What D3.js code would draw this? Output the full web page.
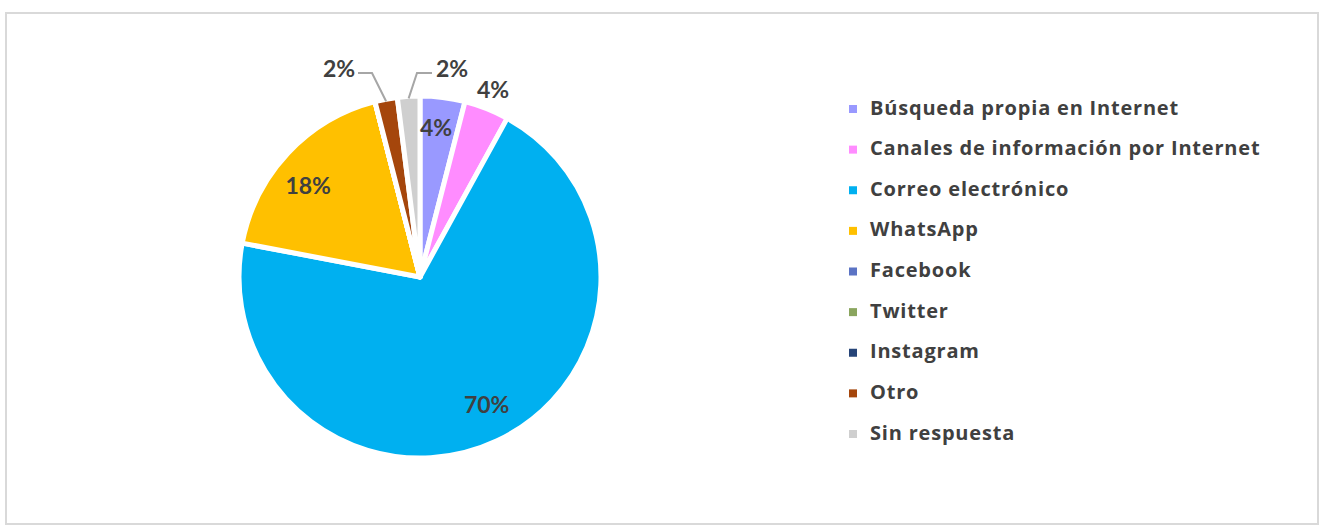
<!DOCTYPE html>
<html lang="es">
<head>
    <meta charset="UTF-8">
    <title>Pie Chart</title>
    <script src="https://d3js.org/d3.v7.min.js"></script>
    <style>
        body { margin: 0; background: #fff; }
        text { font-family: Lato, "Open Sans", sans-serif; font-weight: bold; fill: #404040; }
        .legend text { font-family: "Open Sans", Lato, sans-serif; }
    </style>
</head>
<body>
    <svg id="canvas"></svg>
    <script>
let categories = ['Búsqueda propia en Internet', 'Canales de información por Internet', 'Correo electrónico',
                  'WhatsApp', 'Facebook', 'Twitter', 'Instagram', 'Otro', 'Sin respuesta']
let values = [4, 4, 70, 18, 0, 0, 0, 2, 2]
let colors = ['#9999ff', '#ff8cff', '#00b0f0', '#ffc000', '#5b73c4', '#8aa55e', '#264478', '#a5460c', '#cfcfcf']

let width = 1328
let height = 527
let cx = 420
let cy = 277
let radius = 181

let svg = d3.select('svg')
            .attr('width', width)
            .attr('height', height)

// chart frame
svg.append('rect')
   .attr('x', 6).attr('y', 13)
   .attr('width', 1312).attr('height', 511)
   .attr('fill', 'none')
   .attr('stroke', '#d9d9d9')
   .attr('stroke-width', 2)

let pie = d3.pie().sort(null).value((d) => d)
let arcs = pie(values)
let arc = d3.arc().innerRadius(0).outerRadius(radius)

let g = svg.append('g').attr('transform', 'translate(' + cx + ',' + cy + ')')

g.selectAll('path')
 .data(arcs)
 .enter()
 .append('path')
 .attr('d', arc)
 .attr('fill', (d, i) => colors[i])
 .attr('stroke', '#fff')
 .attr('stroke-width', 5)
 .attr('stroke-linejoin', 'round')

// label placement: inside (radius fraction + angle nudge) or outside with leader line
let labelPos = {
  0: { r: 0.834, da: -0.019 },
  1: { out: [73, -188] },
  2: { r: 0.79, da: -0.045 },
  3: { r: 0.80, da: -0.066 },
  7: { out: [-81, -209], line: true, side: 'left' },
  8: { out: [32, -209], line: true, side: 'right' }
}

arcs.forEach((d, i) => {
  if (!labelPos[i]) return
  let p = labelPos[i]
  let mid = (d.startAngle + d.endAngle) / 2
  let x, y
  if (p.out) {
    x = p.out[0]; y = p.out[1]
  } else {
    let a = mid + (p.da || 0)
    x = Math.sin(a) * radius * p.r
    y = -Math.cos(a) * radius * p.r
  }
  g.append('text')
   .attr('x', x).attr('y', y)
   .attr('text-anchor', 'middle')
   .attr('dominant-baseline', 'central')
   .style('font-size', '23px')
   .text(values[i] + '%')
  if (p.line) {
    let edge = [Math.sin(mid) * radius, -Math.cos(mid) * radius]
    let start = p.side === 'left' ? x + 19 : x - 20
    let knee = p.side === 'left' ? x + 33 : x - 35
    g.append('polyline')
     .attr('points', [[start, y + 5], [knee, y + 5], [edge[0], edge[1] + 2]].map((q) => q.join(',')).join(' '))
     .attr('fill', 'none')
     .attr('stroke', '#a6a6a6')
     .attr('stroke-width', 2)
  }
})

// legend
let legendY = d3.scalePoint().domain(categories).range([107, 432])

let legend = svg.selectAll('.legend')
                .data(categories)
                .enter()
                .append('g')
                .attr('class', 'legend')
                .attr('transform', (d) => 'translate(849,' + legendY(d) + ')')

legend.append('rect')
      .attr('x', 0).attr('y', -2)
      .attr('width', 8).attr('height', 8)
      .attr('fill', (d, i) => colors[i])

legend.append('text')
      .attr('x', 21).attr('y', 0)
      .attr('dominant-baseline', 'central')
      .style('font-size', '20px')
      .style('letter-spacing', '0.8px')
      .text((d) => d)
    </script>
</body>
</html>
